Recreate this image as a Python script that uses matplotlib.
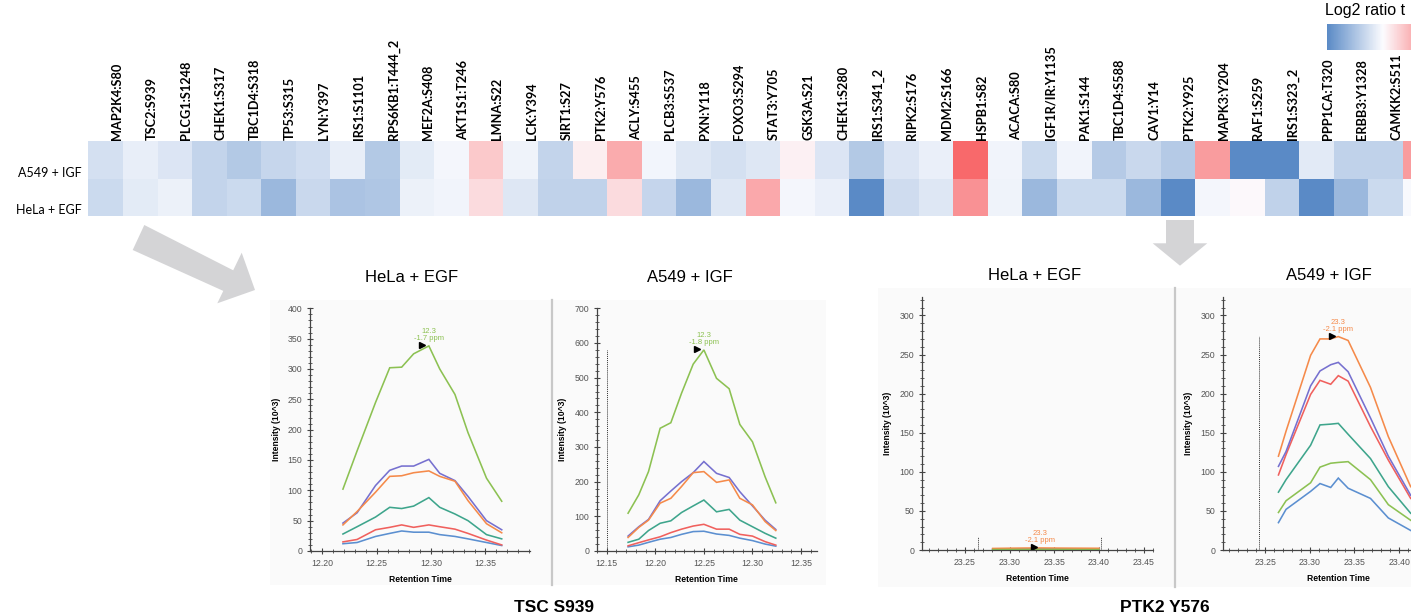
import numpy as np
import matplotlib
matplotlib.use("Agg")
import matplotlib.pyplot as plt
from matplotlib.colors import LinearSegmentedColormap
from matplotlib.patches import Polygon, Rectangle
from matplotlib.lines import Line2D
from matplotlib.ticker import MultipleLocator, FormatStrFormatter
from matplotlib.transforms import offset_copy

W, H = 1411, 615

# ---- heatmap: log2 ratio, one value per phosphosite
SITES = ["MAP2K4:S80", "TSC2:S939", "PLCG1:S1248", "CHEK1:S317", "TBC1D4:S318",
         "TP53:S315", "LYN:Y397", "IRS1:S1101", "RPS6KB1:T444_2", "MEF2A:S408",
         "AKT1S1:T246", "LMNA:S22", "LCK:Y394", "SIRT1:S27", "PTK2:Y576",
         "ACLY:S455", "PLCB3:S537", "PXN:Y118", "FOXO3:S294", "STAT3:Y705",
         "GSK3A:S21", "CHEK1:S280", "IRS1:S341_2", "RIPK2:S176", "MDM2:S166",
         "HSPB1:S82", "ACACA:S80", "IGF1R/IR:Y1135", "PAK1:S144", "TBC1D4:S588",
         "CAV1:Y14", "PTK2:Y925", "MAPK3:Y204", "RAF1:S259", "IRS1:S323_2",
         "PPP1CA:T320", "ERBB3:Y1328", "CAMKK2:S511", ""]
A549_IGF = [-0.25, -0.12, -0.20, -0.35, -0.45, -0.33, -0.27, -0.12, -0.45, -0.15,
            -0.05, 0.35, -0.08, -0.35, 0.10, 0.55, -0.06, -0.18, -0.25, -0.18,
            0.08, -0.20, -0.45, -0.20, -0.11, 1.00, -0.07, -0.30, -0.07, -0.43,
            -0.32, -0.43, 0.65, -1.00, -1.00, -0.16, -0.37, -0.37, 0.65]
HELA_EGF = [-0.30, -0.15, -0.10, -0.35, -0.30, -0.60, -0.32, -0.50, -0.47, -0.10,
            -0.07, 0.22, -0.18, -0.37, -0.37, 0.22, -0.34, -0.60, -0.18, 0.57,
            -0.05, -0.11, -1.00, -0.28, -0.18, 0.72, -0.08, -0.60, -0.30, -0.30,
            -0.60, -1.00, -0.05, 0.03, -0.37, -1.00, -0.60, -0.30, -0.03]
CONDITIONS = ["A549 + IGF", "HeLa + EGF"]

# ---- extracted ion chromatograms (intensity 10^3), series: blue, red, teal, purple, orange, green
SERIES_COLORS = ["#5b8fd0", "#f0605d", "#3ea58c", "#7670cf", "#f58a4a", "#8cc152"]

TSC_HELA_RT = [12.219, 12.232, 12.249, 12.262, 12.273, 12.284, 12.298, 12.308,
               12.322, 12.334, 12.351, 12.365]
TSC_HELA_Y = [
    [12, 14, 24, 29, 33, 31, 31, 27, 24, 20, 14, 9],
    [15, 19, 35, 39, 43, 39, 43, 40, 36, 29, 18, 10],
    [28, 40, 56, 72, 70, 74, 88, 72, 61, 50, 27, 20],
    [46, 63, 108, 133, 140, 140, 151, 128, 116, 90, 50, 35],
    [43, 65, 97, 123, 124, 129, 132, 123, 115, 83, 45, 30],
    [102, 165, 245, 302, 303, 325, 338, 300, 258, 195, 120, 82],
]

TSC_A549_RT = [12.172, 12.183, 12.193, 12.205, 12.216, 12.227, 12.239, 12.250,
               12.263, 12.276, 12.287, 12.300, 12.313, 12.324]
TSC_A549_Y = [
    [12, 17, 25, 34, 39, 48, 56, 57, 49, 45, 37, 30, 20, 14],
    [15, 24, 32, 41, 53, 63, 72, 77, 63, 63, 48, 43, 27, 17],
    [25, 34, 59, 80, 87, 111, 130, 147, 113, 120, 89, 70, 51, 37],
    [43, 70, 91, 145, 173, 200, 226, 258, 224, 212, 171, 130, 89, 62],
    [39, 68, 89, 138, 152, 186, 226, 229, 198, 205, 152, 133, 85, 59],
    [109, 162, 229, 354, 370, 455, 539, 580, 498, 468, 365, 315, 214, 139],
]

PTK2_HELA_RT = [23.281, 23.300, 23.318, 23.334, 23.360, 23.380, 23.400]
PTK2_HELA_Y = [
    [0.8, 0.9, 1.0, 1.0, 0.9, 0.8, 0.8],
    [1.0, 1.1, 1.2, 1.2, 1.1, 1.0, 1.0],
    [0.6, 0.7, 0.8, 0.8, 0.7, 0.6, 0.6],
    [1.2, 1.3, 1.4, 1.5, 1.4, 1.3, 1.2],
    [2.0, 2.3, 2.5, 2.6, 2.4, 2.3, 2.2],
    [0.5, 0.6, 0.6, 0.7, 0.6, 0.5, 0.5],
]

PTK2_A549_RT = [23.265, 23.2735, 23.301, 23.3115, 23.3235, 23.332, 23.343,
                23.368, 23.388, 23.413]
PTK2_A549_Y = [
    [35, 52, 75, 85, 80, 92, 79, 66, 41, 25],
    [96, 122, 199, 217, 212, 223, 216, 158, 115, 66],
    [74, 90, 134, 160, 161, 162, 148, 117, 81, 47],
    [107, 126, 210, 229, 237, 240, 228, 169, 120, 70],
    [120, 152, 249, 270, 270, 273, 268, 208, 145, 81],
    [48, 63, 86, 106, 111, 112, 113, 90, 58, 38],
]


def box(x0, y0, x1, y1):
    """pixel box (top-left origin) -> figure fraction rect"""
    return [x0 / W, 1 - y1 / H, (x1 - x0) / W, (y1 - y0) / H]


def fpt(x, y):
    return (x / W, 1 - y / H)


def chrom(fig, rect, rt, ys, xlim, ylim, ymaj, ymin, apex, label, label_color,
          bounds=(), bound_top=0):
    ax = fig.add_axes(box(*rect))
    ax.set_facecolor("#fafafa")
    for yv, c in zip(ys, SERIES_COLORS):
        ax.plot(rt, yv, color=c, lw=1.15, solid_joinstyle="miter")
    for b in bounds:
        ax.plot([b, b], [0, bound_top], color="#333", lw=0.7, ls=(0, (1, 1)))
    ax.set_xlim(*xlim)
    ax.set_ylim(*ylim)
    ax.xaxis.set_major_locator(MultipleLocator(0.05))
    ax.xaxis.set_minor_locator(MultipleLocator(0.01))
    ax.xaxis.set_major_formatter(FormatStrFormatter("%.2f"))
    ax.yaxis.set_major_locator(MultipleLocator(ymaj))
    ax.yaxis.set_minor_locator(MultipleLocator(ymin))
    for s in ("top", "right"):
        ax.spines[s].set_visible(False)
    for s in ("left", "bottom"):
        ax.spines[s].set_color("#444")
        ax.spines[s].set_linewidth(0.9)
    ax.tick_params(which="major", direction="inout", length=5, width=0.8,
                   color="#444", labelsize=6.3, labelcolor="#555", pad=3)
    ax.tick_params(which="minor", direction="inout", length=3, width=0.6, color="#444")
    for t in ax.get_xticklabels() + ax.get_yticklabels():
        t.set_family("Liberation Sans")
    ax.set_xlabel("Retention Time", fontsize=6.2, fontweight="bold",
                  family="Liberation Sans", labelpad=5.5)
    ax.set_ylabel("Intensity (10^3)", fontsize=6.2, fontweight="bold",
                  family="Liberation Sans", labelpad=5)
    ax.annotate(label, xy=apex, xytext=(0, 2.5), textcoords="offset points",
                ha="center", va="bottom", fontsize=5.5, color=label_color,
                linespacing=1.0, family="Liberation Sans")
    tr = offset_copy(ax.transData, fig=fig, x=-4.6, y=0.6, units="points")
    ax.plot([apex[0]], [apex[1]], marker=">", ms=4.2, color="k", transform=tr,
            clip_on=False)
    return ax


fig = plt.figure(figsize=(W / 100, H / 100), dpi=100)
fig.patch.set_facecolor("white")

# ---- heatmap
cmap = LinearSegmentedColormap.from_list("excel3", ["#5A8AC6", "#FCFCFF", "#F8696B"])
n = len(SITES)
cw = 34.6
axh = fig.add_axes(box(88.3, 141, 88.3 + n * cw, 216))
mesh = axh.pcolormesh(np.array([A549_IGF, HELA_EGF]), cmap=cmap, vmin=-1, vmax=1)
axh.set_xlim(0, n)
axh.set_ylim(2, 0)
axh.axis("off")
for i, s in enumerate(SITES):
    axh.text(i + 0.82, -0.02, s, rotation=90, ha="center", va="bottom",
             fontsize=9.2, fontweight="bold", family="Lato", clip_on=False)
for j, c in enumerate(CONDITIONS):
    axh.text(-0.19, j + 0.85, c, ha="right", va="center", fontsize=9,
             family="Lato", clip_on=False)

cax = fig.add_axes(box(1327, 24, 1439, 50))
cb = fig.colorbar(mesh, cax=cax, orientation="horizontal")
cb.outline.set_visible(False)
cax.set_xticks([])
fig.text(1325 / W, 1 - 10 / H, "Log2 ratio t", ha="left", va="center",
         fontsize=11.5, family="Liberation Sans")

# ---- arrows
arrow1 = [(144.3, 225), (233.2, 270.3), (241.7, 252.7), (255, 290),
          (217.3, 303.3), (223.3, 290.9), (132.7, 250)]
arrow2 = [(1166, 220), (1194, 220), (1194, 243.3), (1207.3, 243.3), (1180, 265.7),
          (1152.7, 243.3), (1166, 243.3)]
for a in (arrow1, arrow2):
    fig.add_artist(Polygon([fpt(*p) for p in a], closed=True, facecolor="#d4d4d6",
                           edgecolor="none", transform=fig.transFigure))

# ---- panel backgrounds and separators
for r in ((270, 300, 826, 585), (878, 288, W, 587)):
    fig.add_artist(Rectangle(fpt(r[0], r[3]), (r[2] - r[0]) / W, (r[3] - r[1]) / H,
                             facecolor="#fafafa", edgecolor="none",
                             transform=fig.transFigure, zorder=-1))
fig.add_artist(Line2D([551.7 / W] * 2, [1 - 300 / H, 1 - 585 / H], color="#c8c8c8",
                      lw=1.6, transform=fig.transFigure))
fig.add_artist(Line2D([1175 / W] * 2, [1 - 288 / H, 1 - 587 / H], color="#c8c8c8",
                      lw=1.6, transform=fig.transFigure))

# ---- chromatograms
chrom(fig, (310, 308.3, 530, 551), TSC_HELA_RT, TSC_HELA_Y, (12.1887, 12.391),
      (0, 400), 50, 10, (TSC_HELA_RT[6], TSC_HELA_Y[5][6]), "12.3\n-1.7 ppm",
      SERIES_COLORS[5])
chrom(fig, (596.7, 308.3, 816.7, 551), TSC_A549_RT, TSC_A549_Y, (12.1397, 12.3661),
      (0, 700), 100, 20, (TSC_A549_RT[7], TSC_A549_Y[5][7]), "12.3\n-1.8 ppm",
      SERIES_COLORS[5], bounds=(12.15,), bound_top=580)
chrom(fig, (921.7, 296.7, 1153.3, 550), PTK2_HELA_RT, PTK2_HELA_Y, (23.2015, 23.4608),
      (0, 324), 50, 10, (PTK2_HELA_RT[3], PTK2_HELA_Y[4][3]), "23.3\n-2.1 ppm",
      SERIES_COLORS[4], bounds=(23.265, 23.402), bound_top=16)
chrom(fig, (1222.7, 296.7, 1454, 550), PTK2_A549_RT, PTK2_A549_Y, (23.2026, 23.4615),
      (0, 324), 50, 10, (PTK2_A549_RT[5], PTK2_A549_Y[4][5]), "23.3\n-2.1 ppm",
      SERIES_COLORS[4], bounds=(23.2433,), bound_top=274)

# ---- titles
for x, y, t in ((412, 278, "HeLa + EGF"), (690, 278, "A549 + IGF"),
                (1035, 275, "HeLa + EGF"), (1329, 275, "A549 + IGF")):
    fig.text(x / W, 1 - y / H, t, ha="center", va="center", fontsize=12,
             family="Liberation Sans")
for x, t in ((554, "TSC S939"), (1165, "PTK2 Y576")):
    fig.text(x / W, 1 - 607 / H, t, ha="center", va="center", fontsize=12.5,
             fontweight="bold", family="Liberation Sans")

fig.savefig("out.png", dpi=100)
